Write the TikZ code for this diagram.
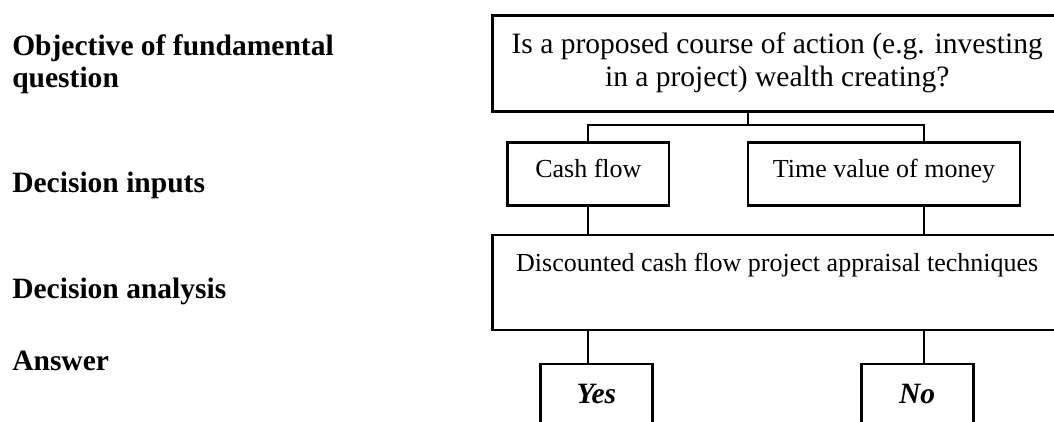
\documentclass[tikz,border=0pt]{standalone}
\usepackage{fontspec}
\setmainfont{Liberation Serif}
\tikzset{
  box/.style={draw, line width=2pt, inner sep=0pt, align=center, font=\fontsize{18.5}{22}\selectfont},
  kquestion/.style={box, minimum width=14.25cm, minimum height=2.4cm, font=\fontsize{21}{23.5}\selectfont},
  kinput/.style={box, minimum height=1.575cm, text height=0.45cm, text depth=0.28cm},
  kanalysis/.style={box, minimum width=14.25cm, minimum height=2.375cm, text depth=0.98cm},
  kanswer/.style={box, minimum width=2.8cm, minimum height=1.5cm, font=\fontsize{21}{24}\selectfont\bfseries\itshape},
  klabel/.style={anchor=base west, inner sep=0pt, align=left, font=\fontsize{21}{22.8}\selectfont\bfseries},
  link/.style={line width=0.9pt},
}

\begin{document}
\begin{tikzpicture}
    \useasboundingbox (0,0) rectangle (26.35,-10.525);
    % levels on the left
    \node[klabel] (lobjective) at (0.30,-2.18) {Objective of fundamental\\question};
    \node[klabel] (linputs) at (0.30,-4.80) {Decision inputs};
    \node[klabel] (lanalysis) at (0.30,-7.45) {Decision analysis};
    \node[klabel] (lanswer) at (0.30,-9.25) {Answer};
    % decision tree on the right
    \node[kquestion] (question) at (19.43,-1.58) {Is a proposed course of action (e.g. investing\\in a project) wealth creating?};
    \node[kinput, minimum width=4.03cm] (cashflow) at (14.71,-4.34) {Cash flow};
    \node[kinput, minimum width=6.80cm] (timevalue) at (22.10,-4.34) {Time value of money};
    \node[kanalysis] (analysis) at (19.43,-7.06) {Discounted cash flow project appraisal techniques};
    \node[kanswer] (yes) at (14.91,-9.85) {Yes};
    \node[kanswer] (no) at (22.93,-9.85) {No};
    \coordinate (split) at (18.70,-3.125);
    \coordinate (lcol) at (14.70,0.00);
    \coordinate (rcol) at (23.10,0.00);
    \draw[link] (question.south -| split) -- (split);
    \draw[link] (cashflow.north -| lcol) |- (split) -| (timevalue.north -| rcol);
    \draw[link] (cashflow.south -| lcol) -- (analysis.north -| lcol);
    \draw[link] (timevalue.south -| rcol) -- (analysis.north -| rcol);
    \draw[link] (analysis.south -| lcol) -- (yes.north -| lcol);
    \draw[link] (analysis.south -| rcol) -- (no.north -| rcol);
\end{tikzpicture}
\end{document}
